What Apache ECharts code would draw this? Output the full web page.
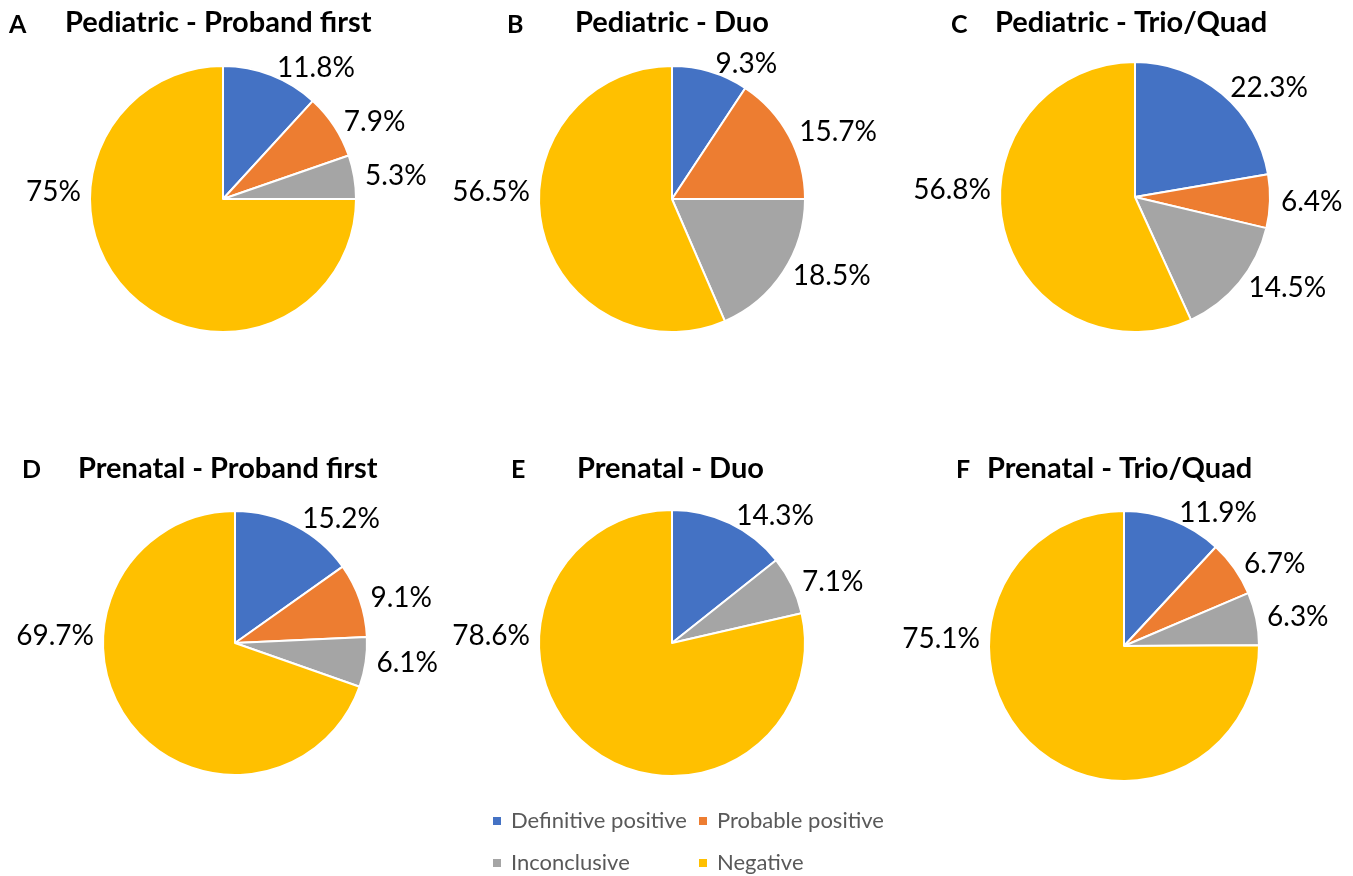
<!DOCTYPE html>
<html>
<head>
<meta charset="utf-8">
<script src="https://cdn.jsdelivr.net/npm/echarts@6/dist/echarts.min.js"></script>
<style>
  html, body { margin: 0; padding: 0; background: #fff; }
  #chart { width: 1353px; height: 876px; }
</style>
</head>
<body>
<div id="chart"></div>
<script>
// Diagnostic outcome categories and their colours
const categories = ['Definitive positive', 'Probable positive', 'Inconclusive', 'Negative'];
const categoryColors = ['#4472C4', '#ED7D31', '#A5A5A5', '#FFC000'];

// Panel letters and titles
const panelLetters = ['A', 'B', 'C', 'D', 'E', 'F'];
const panelTitles = [
  'Pediatric - Proband first',
  'Pediatric - Duo',
  'Pediatric - Trio/Quad',
  'Prenatal - Proband first',
  'Prenatal - Duo',
  'Prenatal - Trio/Quad'
];

// Percentages per panel, in category order
const pediatricProbandFirst = [11.8, 7.9, 5.3, 75];
const pediatricDuo = [9.3, 15.7, 18.5, 56.5];
const pediatricTrioQuad = [22.3, 6.4, 14.5, 56.8];
const prenatalProbandFirst = [15.2, 9.1, 6.1, 69.7];
const prenatalDuo = [14.3, 0, 7.1, 78.6];
const prenatalTrioQuad = [11.9, 6.7, 6.3, 75.1];

const panelValues = [
  pediatricProbandFirst, pediatricDuo, pediatricTrioQuad,
  prenatalProbandFirst, prenatalDuo, prenatalTrioQuad
];

// Layout of each panel: pie centre, radius, title placement
const pieCenters = [[223, 199], [672, 199], [1135, 197], [235, 643], [672, 643], [1124, 646]];
const pieRadii = [133, 133, 135, 132, 133, 135];
const letterPos = [[9, 12], [507, 12], [951, 12], [22, 457], [511, 457], [956, 457]];
const titlePos = [[65, 8], [575, 8], [995, 8], [78, 454], [577, 454], [987, 454]];

const FONT = 'Lato, "Open Sans", sans-serif';
const negativeName = categories[3];

// Slice data per panel (zero-valued categories are left out)
const seriesData = panelValues.map(vals =>
  vals.map((v, k) => ({ name: categories[k], value: v, itemStyle: { color: categoryColors[k] } }))
      .filter(d => d.value > 0)
);

const titles = [];
panelLetters.forEach((letter, i) => {
  titles.push({
    text: letter, left: letterPos[i][0], top: letterPos[i][1], padding: 0,
    textStyle: { fontFamily: FONT, fontWeight: 'bold', fontSize: 25, color: '#000' }
  });
  titles.push({
    text: panelTitles[i], left: titlePos[i][0], top: titlePos[i][1], padding: 0,
    textStyle: { fontFamily: FONT, fontWeight: 'bold', fontSize: 29, color: '#000' }
  });
});

const series = seriesData.map((data, i) => ({
  type: 'pie',
  name: panelTitles[i],
  center: pieCenters[i],
  radius: pieRadii[i],
  startAngle: 90,
  clockwise: true,
  avoidLabelOverlap: false,
  animation: false,
  silent: true,
  itemStyle: { borderColor: '#fff', borderWidth: 2 },
  label: {
    show: true,
    position: 'outside',
    fontFamily: FONT,
    fontSize: 28,
    color: '#000',
    distanceToLabelLine: 3,
    formatter: p => p.value + '%'
  },
  labelLine: { show: false, length: 8, length2: 0 },
  // The large "Negative" slice carries its label at the left side of the pie
  labelLayout: function (params) {
    const item = data[params.dataIndex];
    if (item && item.name === negativeName) {
      return {
        x: params.rect.x - 8,
        y: params.rect.y + params.rect.height / 2 - 7,
        align: 'right',
        verticalAlign: 'middle'
      };
    }
    return {};
  },
  data: data
}));

const legendText = { fontFamily: FONT, fontSize: 22, color: '#595959', padding: [0, 0, 0, 4] };
const legends = [
  { data: [categories[0], categories[2]], left: 491, top: 810 },
  { data: [categories[1], categories[3]], left: 697, top: 810 }
].map(l => Object.assign({
  orient: 'vertical',
  icon: 'rect',
  itemWidth: 10,
  itemHeight: 10,
  itemGap: 20,
  padding: 0,
  selectedMode: false,
  textStyle: legendText
}, l));

const chart = echarts.init(document.getElementById('chart'), null, { renderer: 'canvas' });
chart.setOption({
  backgroundColor: '#fff',
  animation: false,
  title: titles,
  legend: legends,
  series: series
});
</script>
</body>
</html>
